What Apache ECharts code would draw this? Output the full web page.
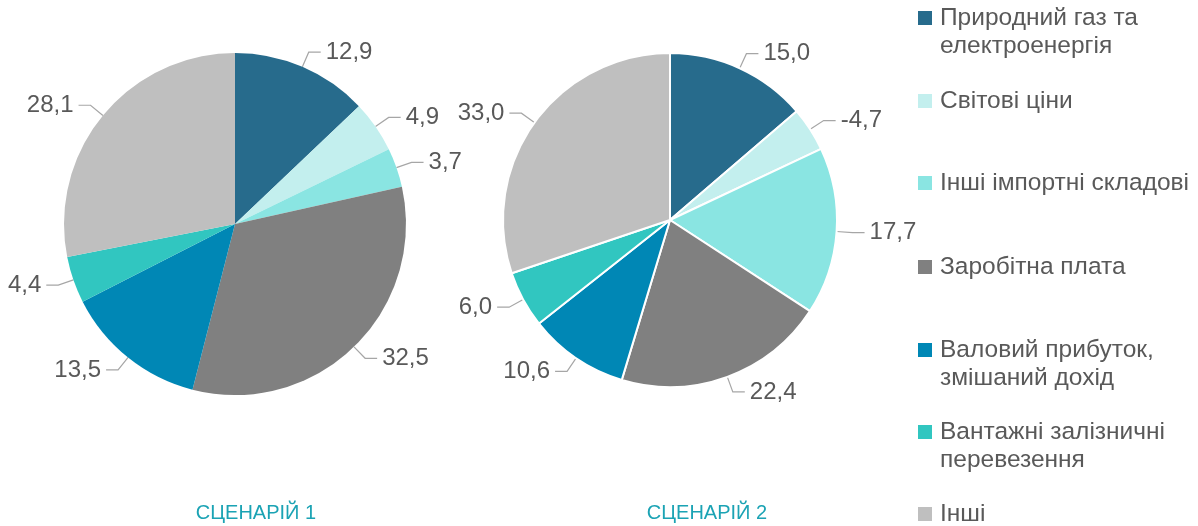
<!DOCTYPE html>
<html>
<head>
<meta charset="utf-8">
<script src="https://cdn.jsdelivr.net/npm/echarts@6/dist/echarts.min.js"></script>
<style>
html, body { margin: 0; padding: 0; background: #fff; }
#main { width: 1198px; height: 526px; }
</style>
</head>
<body>
<div id="main"></div>
<script>
// категорії
var categories = [ 'Природний газ та електроенергія', 'Світові ціни',
		'Інші імпортні складові', 'Заробітна плата',
		'Валовий прибуток, змішаний дохід', 'Вантажні залізничні перевезення',
		'Інші' ];
// як у легенді (з переносом)
var legendLabels = [ 'Природний газ та\nелектроенергія', 'Світові ціни',
		'Інші імпортні складові', 'Заробітна плата',
		'Валовий прибуток,\nзмішаний дохід', 'Вантажні залізничні\nперевезення',
		'Інші' ];
var scenario1 = [ 12.9, 4.9, 3.7, 32.5, 13.5, 4.4, 28.1 ];
var scenario2 = [ 15.0, -4.7, 17.7, 22.4, 10.6, 6.0, 33.0 ];
var titles = [ 'СЦЕНАРІЙ 1', 'СЦЕНАРІЙ 2' ];

var colors = [ '#276b8c', '#c3efee', '#8ae5e2', '#808080', '#0087b5',
		'#31c6c0', '#bfbfbf' ];

function toData(arr) {
	return arr.map(function(v, i) {
		return {
			name : categories[i],
			value : Math.abs(v),
			raw : v
		};
	});
}

function fmt(p) {
	return p.data.raw.toFixed(1).replace('.', ',');
}

var legendCenters = [ 18, 101, 183, 267, 350, 432, 514 ];
var lh = 28;
var legends = categories.map(function(name, i) {
	var label = legendLabels[i];
	var twoLines = label.indexOf('\n') >= 0;
	return {
		orient : 'vertical',
		left : 918,
		top : legendCenters[i] - (twoLines ? lh * 1.5 : lh / 2),
		padding : 0,
		itemWidth : 14,
		itemHeight : 14,
		icon : 'rect',
		selectedMode : false,
		data : [ name ],
		formatter : function() {
			return twoLines ? '\n' + label : label;
		},
		textStyle : {
			fontFamily : 'Liberation Sans',
			fontSize : 24.5,
			lineHeight : lh,
			color : '#595959',
			padding : [ 0, 0, 0, 3 ]
		}
	};
});

var labelStyle = {
	formatter : fmt,
	fontFamily : 'Liberation Sans',
	fontSize : 24,
	color : '#595959',
	overflow : 'none'
};
var lineStyle = {
	show : true,
	length : 16,
	length2 : 12,
	lineStyle : {
		color : '#a6a6a6',
		width : 1.2
	}
};

var myChart = echarts.init(document.getElementById('main'));
var option = {
	color : colors,
	animation : false,
	title : [ {
		text : titles[0],
		left : 256,
		top : 503,
		padding : 0,
		textAlign : 'center',
		textStyle : {
			fontFamily : 'Liberation Sans',
			fontSize : 20,
			fontWeight : 'normal',
			color : '#1ba3b4'
		}
	}, {
		text : titles[1],
		left : 707,
		top : 503,
		padding : 0,
		textAlign : 'center',
		textStyle : {
			fontFamily : 'Liberation Sans',
			fontSize : 20,
			fontWeight : 'normal',
			color : '#1ba3b4'
		}
	} ],
	legend : legends,
	series : [ {
		name : titles[0],
		type : 'pie',
		center : [ 235, 224 ],
		radius : 171,
		startAngle : 90,
		label : labelStyle,
		labelLine : lineStyle,
		emphasis : {
			disabled : true
		},
		data : toData(scenario1)
	}, {
		name : titles[1],
		type : 'pie',
		center : [ 670, 220 ],
		radius : 167,
		startAngle : 90,
		itemStyle : {
			borderColor : '#fff',
			borderWidth : 2
		},
		label : labelStyle,
		labelLine : lineStyle,
		emphasis : {
			disabled : true
		},
		data : toData(scenario2)
	} ]
};
myChart.setOption(option);
</script>
</body>
</html>
